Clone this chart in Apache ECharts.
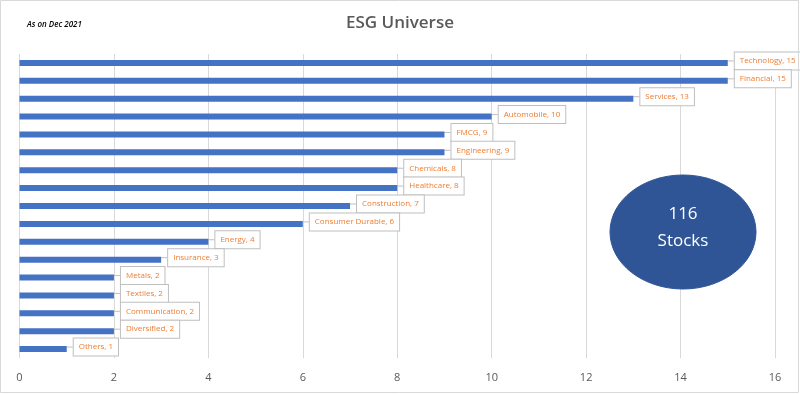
<!DOCTYPE html>
<html><head><meta charset="utf-8">
<script src="https://cdn.jsdelivr.net/npm/echarts@6/dist/echarts.min.js"></script>
<style>html,body{margin:0;padding:0;background:#fff}#c{width:800px;height:394px}</style>
</head><body><div id="c"></div>
<script>
var categories = ["Technology","Financial","Services","Automobile","FMCG","Engineering","Chemicals","Healthcare","Construction","Consumer Durable","Energy","Insurance","Metals","Textiles","Communication","Diversified","Others"];
var stocks = [15,15,13,10,9,9,8,8,7,6,4,3,2,2,2,2,1];
var xTicks = [0,2,4,6,8,10,12,14,16];

var chart = echarts.init(document.getElementById('c'));
chart.setOption({
  animation:false,
  backgroundColor:'#fff',
  title:[{text:'ESG Universe',left:'center',top:10,textStyle:{fontFamily:'Open Sans',fontSize:17,fontWeight:600,color:'#595959'}},
         {text:'As on Dec 2021',left:22,top:16,textStyle:{fontFamily:'Open Sans',fontSize:8,fontStyle:'italic',fontWeight:600,color:'#000'}}],
  grid:{left:19.5,right:25,top:54,bottom:36},
  xAxis:{type:'value',min:xTicks[0],max:xTicks[xTicks.length-1],interval:2,
    axisLine:{show:false},axisTick:{show:false},
    axisLabel:{color:'#595959',fontFamily:'Open Sans',fontSize:11,margin:14},
    splitLine:{lineStyle:{color:'#d9d9d9'}}},
  yAxis:{type:'category',data:categories,inverse:true,axisLine:{show:false},axisTick:{show:false},axisLabel:{show:false}},
  series:[{type:'bar',data:stocks,barWidth:6,
    itemStyle:{color:'#4472C4'},
    label:{show:true,position:'right',distance:5,formatter:'{b}, {c}',color:'#ED7D31',fontFamily:'Open Sans',fontSize:8,
      backgroundColor:'#fff',borderColor:'#bfbfbf',borderWidth:1,padding:[5,5,4,5]},
    labelLine:{show:true,lineStyle:{color:'#bfbfbf',width:1}},
    labelLayout:{dx:2,dy:-2}
  }],
  graphic:[
    {type:'rect',z:100,shape:{x:0.5,y:0.5,width:798,height:392},style:{fill:'none',stroke:'#d9d9d9',lineWidth:1},silent:true},
    {type:'ellipse',z:100,shape:{cx:683,cy:232,rx:73,ry:57},style:{fill:'#2F5597',stroke:'#2F5597'}},
    {type:'text',z:101,style:{x:683,y:228,text:'116\nStocks',fill:'#fff',font:'17px "Open Sans"',align:'center',verticalAlign:'middle',lineHeight:27}}
  ]
});
</script></body></html>
